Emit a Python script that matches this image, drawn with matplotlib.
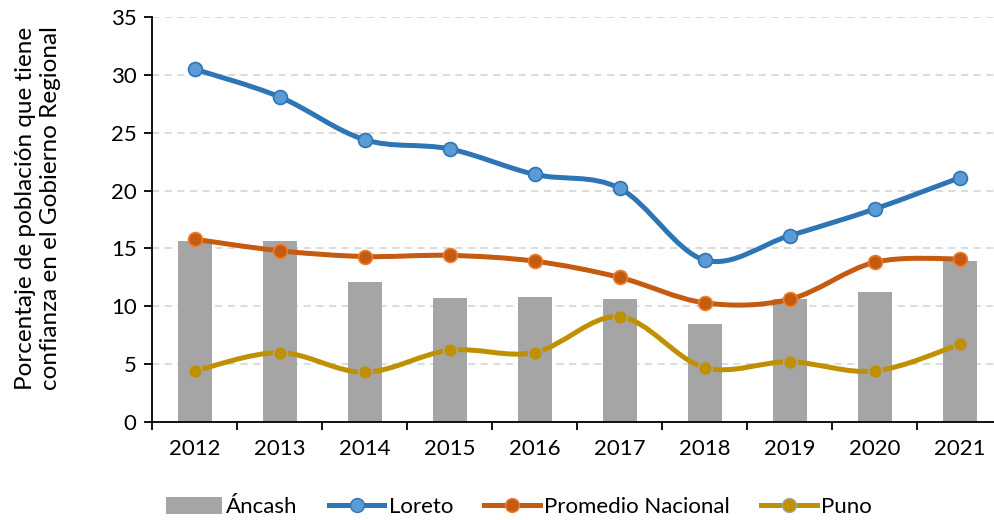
import matplotlib.pyplot as plt
import numpy as np
from matplotlib.lines import Line2D
from matplotlib.patches import Patch, PathPatch
from matplotlib.path import Path

plt.rcParams["font.family"] = ["Lato", "DejaVu Sans"]

YEARS = ["2012", "2013", "2014", "2015", "2016", "2017", "2018", "2019", "2020", "2021"]
ANCASH = [15.6, 15.6, 12.1, 10.7, 10.8, 10.6, 8.5, 10.6, 11.2, 13.9]
LORETO = [30.5, 28.1, 24.4, 23.6, 21.4, 20.2, 14.0, 16.1, 18.4, 21.1]
PROMEDIO = [15.8, 14.8, 14.3, 14.4, 13.9, 12.5, 10.3, 10.6, 13.8, 14.1]
PUNO = [4.4, 6.0, 4.3, 6.2, 6.0, 9.1, 4.7, 5.2, 4.4, 6.7]

SERIES = [
    ("Loreto", LORETO, "#2E75B6", "#5B9BD5", "#2E75B6"),
    ("Promedio Nacional", PROMEDIO, "#C55A11", "#C55A11", "#ED7D31"),
    ("Puno", PUNO, "#BF9000", "#BF9000", "#A5A5A5"),
]


def smooth_path(x, y):
    # Catmull-Rom as cubic Bezier segments, like Excel's smoothed line
    pts = np.column_stack([x, y]).astype(float)
    ext = np.vstack([pts[0], pts, pts[-1]])
    verts = [pts[0]]
    codes = [Path.MOVETO]
    for i in range(1, len(ext) - 2):
        p0, p1, p2, p3 = ext[i - 1], ext[i], ext[i + 1], ext[i + 2]
        verts += [p1 + (p2 - p0) / 6, p2 - (p3 - p1) / 6, p2]
        codes += [Path.CURVE4] * 3
    return Path(verts, codes)


fig = plt.figure(figsize=(9.95, 5.2), dpi=100)
ax = fig.add_axes([152 / 995, 98 / 520, 850 / 995, 405 / 520])

x = np.arange(len(YEARS))
ax.bar(x, ANCASH, width=0.4, color="#A5A5A5", zorder=2)

for name, vals, lc, mfc, mec in SERIES:
    ax.add_patch(PathPatch(smooth_path(x, vals), fill=False, edgecolor=lc,
                           linewidth=3.6, capstyle="round", zorder=3))
    ax.plot(x, vals, linestyle="none", marker="o", markersize=10,
            markerfacecolor=mfc, markeredgecolor=mec, markeredgewidth=1.2, zorder=4)

ax.set_xlim(-0.5, 9.5)
ax.set_ylim(0, 35)
ax.set_yticks(range(0, 36, 5))
ax.set_xticks(x)
ax.set_xticklabels(YEARS)
ax.set_xticks(np.arange(-0.5, 10, 1), minor=True)
ax.tick_params(axis="x", which="major", length=0, pad=12, labelsize=16)
ax.tick_params(axis="x", which="minor", length=6, width=1.3)
ax.tick_params(axis="y", length=6, width=1.3, labelsize=16, pad=5)
ax.yaxis.grid(True, color="#D9D9D9", linestyle=(0, (4, 3)), linewidth=1.3, zorder=0)
ax.set_axisbelow(True)
ax.spines[["top", "right"]].set_visible(False)
ax.spines[["left", "bottom"]].set_linewidth(1.3)

fig.text(38 / 995, 1 - 208 / 520, "Porcentaje de población que tiene\nconfianza en el Gobierno Regional",
         rotation=90, ha="center", va="center", fontsize=17.5, linespacing=1.25)

handles = [Patch(facecolor="#A5A5A5", label="Áncash")]
for name, vals, lc, mfc, mec in SERIES:
    handles.append(Line2D([], [], color=lc, linewidth=3.6, marker="o", markersize=10,
                          markerfacecolor=mfc, markeredgecolor=mec, label=name))
fig.legend(handles=handles, loc="center", bbox_to_anchor=(519 / 995, 13 / 520), ncol=4,
           frameon=False, fontsize=16, handlelength=2.5, handleheight=0.8,
           handletextpad=0.2, columnspacing=1.4)

fig.savefig("out.png", dpi=100)
